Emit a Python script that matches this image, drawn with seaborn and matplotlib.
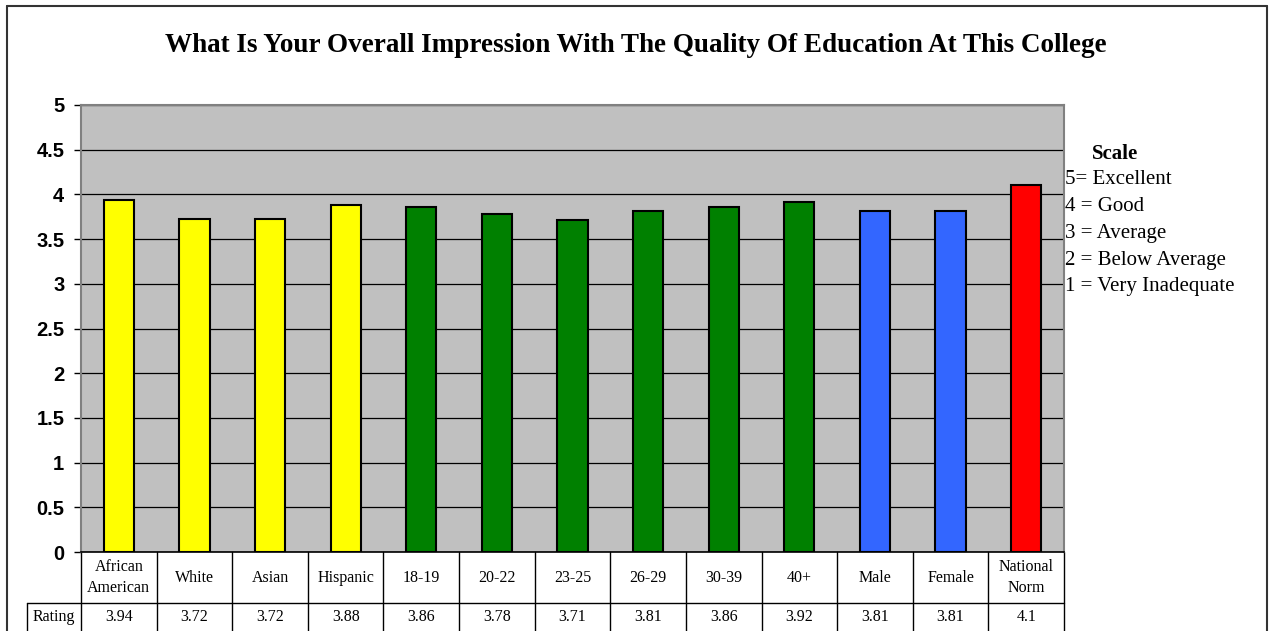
import numpy as np
import pandas as pd
import seaborn as sns
import matplotlib.pyplot as plt
from matplotlib.lines import Line2D
from matplotlib.ticker import FuncFormatter

categories = ['African\nAmerican', 'White', 'Asian', 'Hispanic', '18-19', '20-22', '23-25',
              '26-29', '30-39', '40+', 'Male', 'Female', 'National\nNorm']
ratings = [3.94, 3.72, 3.72, 3.88, 3.86, 3.78, 3.71, 3.81, 3.86, 3.92, 3.81, 3.81, 4.1]
groups = ['Ethnicity'] * 4 + ['Age'] * 6 + ['Gender'] * 2 + ['Norm']
palette = {'Ethnicity': '#FFFF00', 'Age': '#008000', 'Gender': '#3366FF', 'Norm': '#FF0000'}
y_ticks = [0, 0.5, 1, 1.5, 2, 2.5, 3, 3.5, 4, 4.5, 5]
title = 'What Is Your Overall Impression With The Quality Of Education At This College'
scale_title = 'Scale'
scale_lines = ['5= Excellent', '4 = Good', '3 = Average', '2 = Below Average', '1 = Very Inadequate']

df = pd.DataFrame({'category': categories, 'rating': ratings, 'group': groups})

sns.set_style('white')
plt.rcParams['text.color'] = 'black'
plt.rcParams['ytick.color'] = 'black'
W, H = 1272, 631
fig = plt.figure(figsize=(W / 100, H / 100), dpi=100)
ax = fig.add_axes([81 / W, (H - 552) / H, 983 / W, 447 / H])
ax.set_facecolor('#C0C0C0')

sns.barplot(data=df, x='category', y='rating', hue='group', palette=palette, dodge=False,
            saturation=1, width=0.4, edgecolor='black', linewidth=1.5, legend=False,
            ax=ax, zorder=3)

ax.set_xlim(-0.5, len(categories) - 0.5)
ax.set_ylim(0, 5)
ax.set_yticks(y_ticks)
ax.yaxis.set_major_formatter(FuncFormatter(lambda v, p: '%g' % v))
ax.set_xticks([])
ax.set_xlabel('')
ax.set_ylabel('')
ax.tick_params(axis='y', length=5, width=1, color='black', labelcolor='black', pad=7, left=True)
for lab in ax.get_yticklabels():
    lab.set_fontfamily('Liberation Sans')
    lab.set_fontweight('bold')
    lab.set_fontsize(14.5)
ax.yaxis.grid(True, color='black', linewidth=0.9)
ax.set_axisbelow(True)
for s in ['top', 'right', 'left']:
    ax.spines[s].set_color('#808080')
    ax.spines[s].set_linewidth(1.5)
ax.spines['bottom'].set_color('black')
ax.spines['bottom'].set_linewidth(1.2)

# data table under the plot
xt = ax.get_xaxis_transform()
head_h = -51 / 447
row_c = -65 / 447
label_w = 54 / 983
bottom = -0.3
for i in range(len(categories) + 1):
    ax.add_line(Line2D([i - 0.5, i - 0.5], [0, bottom], transform=xt, color='black',
                       linewidth=1, clip_on=False))
ax.add_line(Line2D([-label_w, 1], [head_h, head_h], transform=ax.transAxes, color='black',
                   linewidth=1, clip_on=False))
ax.add_line(Line2D([-label_w, -label_w], [head_h, bottom], transform=ax.transAxes,
                   color='black', linewidth=1, clip_on=False))
for i, (c, r) in enumerate(zip(categories, ratings)):
    ax.text(i, head_h / 2, c, transform=xt, ha='center', va='center', fontsize=11.5,
            family='Liberation Serif', linespacing=1.45)
    ax.text(i, row_c, '%g' % r, transform=xt, ha='center', va='center', fontsize=11.5,
            family='Liberation Serif')
ax.text(-label_w / 2, row_c, 'Rating', transform=ax.transAxes, ha='center', va='center',
        fontsize=11.5, family='Liberation Serif')

fig.text(636 / W, 1 - 46 / H, title, ha='center', va='center', fontsize=19.5,
         fontweight='bold', family='Liberation Serif')

fig.text(1092 / W, 1 - 154 / H, scale_title, ha='left', va='center', fontsize=15,
         fontweight='bold', family='Liberation Serif')
for k, t in enumerate(scale_lines):
    fig.text(1065 / W, 1 - (180 + 26.7 * k) / H, t, ha='left', va='center', fontsize=15,
             family='Liberation Serif')

# outer frame
fc = '#333333'
fig.add_artist(Line2D([7 / W, 7 / W], [0, 1 - 6 / H], transform=fig.transFigure, color=fc, linewidth=1.5))
fig.add_artist(Line2D([1267 / W, 1267 / W], [0, 1 - 6 / H], transform=fig.transFigure, color=fc, linewidth=1.5))
fig.add_artist(Line2D([7 / W, 1267 / W], [1 - 6 / H, 1 - 6 / H], transform=fig.transFigure, color=fc, linewidth=1.5))

fig.savefig('out.png', dpi=100)
